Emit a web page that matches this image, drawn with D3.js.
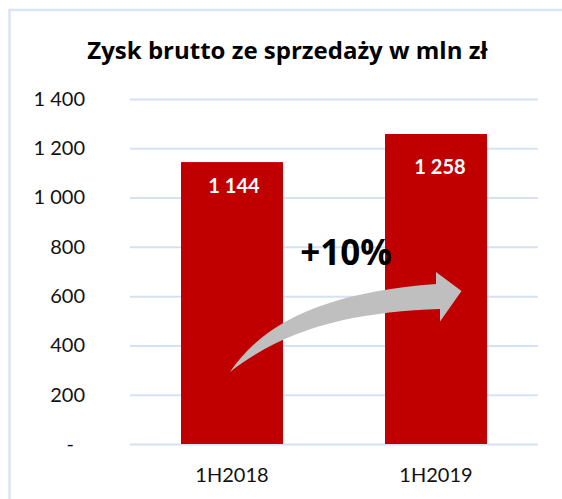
<!DOCTYPE html>
<html>
<head>
<meta charset="utf-8">
<script src="https://cdn.jsdelivr.net/npm/d3@7"></script>
<style>
  html, body { margin: 0; padding: 0; background: #fff; }
  svg { display: block; font-family: Lato, sans-serif; }
</style>
</head>
<body>
<svg id="chart" width="562" height="499"></svg>
<script>
const title = "Zysk brutto ze sprzedaży w mln zł";
const categories = ["1H2018", "1H2019"];
const values = [1144, 1258];
const valueLabels = ["1 144", "1 258"];
const yTicks = [0, 200, 400, 600, 800, 1000, 1200, 1400];
const yTickLabels = ["-", "200", "400", "600", "800", "1 000", "1 200", "1 400"];
const changeLabel = "+10%";

const svg = d3.select("#chart");

// outer frame (only top and left edges are visible)
svg.append("rect")
  .attr("x", 9.5).attr("y", 10).attr("width", 570).attr("height", 520)
  .attr("fill", "none").attr("stroke", "#dae4f4").attr("stroke-width", 2.5);

const x = d3.scaleBand().domain(categories).range([130, 538])
  .paddingInner(0.5).paddingOuter(0.25);
const y = d3.scaleLinear().domain([0, 1400]).range([444, 99]);

// title
svg.append("text")
  .attr("x", 287.5).attr("y", 58.5)
  .attr("text-anchor", "middle")
  .style("font-family", "'Open Sans', sans-serif")
  .style("font-weight", "bold").style("font-size", "24px")
  .attr("fill", "#000")
  .text(title);

// gridlines
const grid = svg.append("g").attr("transform", "translate(130,0)")
  .call(d3.axisLeft(y).tickValues(yTicks).tickSize(-408).tickFormat(""));
grid.select(".domain").remove();
grid.selectAll(".tick line").attr("stroke", "#d6e2f3").attr("stroke-width", 2);

// y axis labels
const yAxis = svg.append("g").attr("transform", "translate(85,0)")
  .call(d3.axisLeft(y).tickValues(yTicks).tickSize(0).tickPadding(0)
    .tickFormat((d, i) => yTickLabels[i]));
yAxis.select(".domain").remove();
yAxis.selectAll(".tick text")
  .style("font-family", "Lato, sans-serif")
  .style("font-size", "20px").attr("fill", "#111")
  .attr("dx", d => d === 0 ? -11 : 0);

// bars
svg.append("g").selectAll("rect").data(values).join("rect")
  .attr("x", (d, i) => x(categories[i]))
  .attr("y", d => y(d))
  .attr("width", x.bandwidth())
  .attr("height", d => y(0) - y(d))
  .attr("fill", "#c00000");

// value labels
const ldx = [2, 4], ldy = [31, 40];
svg.append("g").selectAll("text").data(values).join("text")
  .attr("x", (d, i) => x(categories[i]) + x.bandwidth() / 2 + ldx[i])
  .attr("y", (d, i) => y(d) + ldy[i])
  .attr("text-anchor", "middle")
  .style("font-family", "Lato, sans-serif")
  .style("font-weight", "bold").style("font-size", "20px")
  .attr("fill", "#fff")
  .text((d, i) => valueLabels[i]);

// x axis labels
const xAxis = svg.append("g").attr("transform", "translate(0,444)")
  .call(d3.axisBottom(x).tickSize(0).tickPadding(0));
xAxis.select(".domain").remove();
xAxis.selectAll(".tick text")
  .style("font-family", "Lato, sans-serif")
  .style("font-size", "20px").attr("fill", "#111")
  .attr("dy", 0).attr("y", 38);

// curved arrow
const arrow = d3.path();
arrow.moveTo(230, 372);
arrow.bezierCurveTo(265, 320, 330, 292, 436, 284);
arrow.lineTo(436, 272);
arrow.lineTo(461.5, 291);
arrow.lineTo(440, 321.5);
arrow.lineTo(440, 309);
arrow.bezierCurveTo(360, 312, 290, 325, 230, 372);
arrow.closePath();
svg.append("path").attr("d", arrow.toString()).attr("fill", "#bfbfbf");

// change label
svg.append("text")
  .attr("x", 346).attr("y", 264.5)
  .attr("text-anchor", "middle")
  .style("font-family", "'Open Sans', sans-serif")
  .style("font-weight", "bold").style("font-size", "35px")
  .attr("fill", "#000")
  .text(changeLabel);
</script>
</body>
</html>
